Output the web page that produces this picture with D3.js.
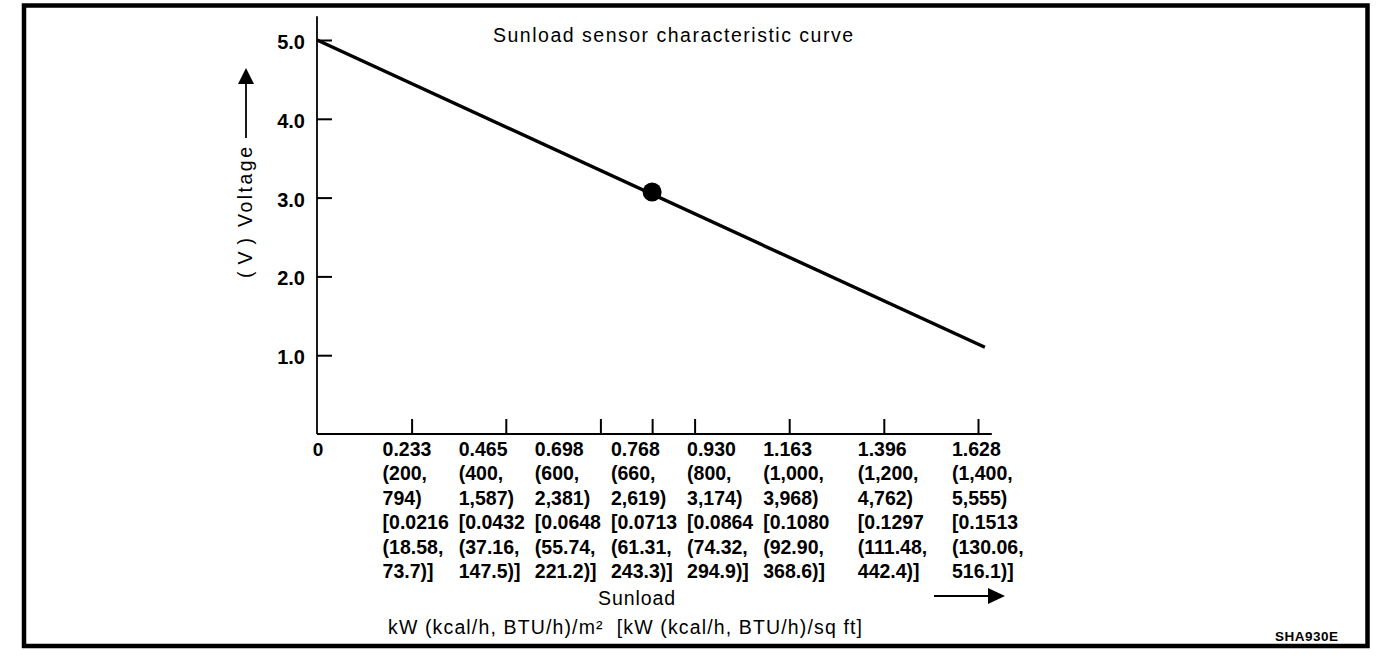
<!DOCTYPE html>
<html>
<head>
<meta charset="utf-8">
<script src="https://cdn.jsdelivr.net/npm/d3@7"></script>
<style>
  body { margin: 0; background: #fff; }
  svg { display: block; }
  text { font-family: "Liberation Sans", Arial, sans-serif; fill: #000; }
</style>
</head>
<body>
<svg id="chart" width="1392" height="664"></svg>
<script>
// values
var voltTicks = [1.0, 2.0, 3.0, 4.0, 5.0];
var kwTicks = [0.233, 0.465, 0.698, 0.768, 0.930, 1.163, 1.396, 1.628];
var kcalLabels = ['(200,', '(400,', '(600,', '(660,', '(800,', '(1,000,', '(1,200,', '(1,400,'];
var btuLabels = ['794)', '1,587)', '2,381)', '2,619)', '3,174)', '3,968)', '4,762)', '5,555)'];
var sqftKwLabels = ['[0.0216', '[0.0432', '[0.0648', '[0.0713', '[0.0864', '[0.1080', '[0.1297', '[0.1513'];
var sqftKcalLabels = ['(18.58,', '(37.16,', '(55.74,', '(61.31,', '(74.32,', '(92.90,', '(111.48,', '(130.06,'];
var sqftBtuLabels = ['73.7)]', '147.5)]', '221.2)]', '243.3)]', '294.9)]', '368.6)]', '442.4)]', '516.1)]'];
var curveKw = [0, 1.645];
var curveVolt = [5.0, 1.10];
var markKw = 0.768;
var markVolt = 3.07;

var svg = d3.select('#chart');

// frame round the whole figure
svg.append('rect')
    .attr('x', 24).attr('y', 5.5)
    .attr('width', 1343.5).attr('height', 640.5)
    .attr('fill', 'none')
    .attr('stroke', '#000')
    .attr('stroke-width', 4.5);

var x0 = 317, x1 = 978;
var xLin = d3.scaleLinear().domain([0, 1.628]).range([x0, x1]);
// the sheet puts the 0.768 tick nearer to 0.930 than a straight scale would
var x = d3.scaleLinear()
    .domain([0, 0.698, 0.768, 0.930, 1.628])
    .range([xLin(0), xLin(0.698), x0 + 0.507 * (x1 - x0), xLin(0.930), xLin(1.628)]);
var y = d3.scaleLinear().domain([0, 5]).range([434, 40]);

// axis lines
svg.append('line')
    .attr('x1', x(0)).attr('x2', x(0))
    .attr('y1', y(0)).attr('y2', y(5.3))
    .attr('stroke', '#000').attr('stroke-width', 1.8);
svg.append('line')
    .attr('x1', x(0)).attr('x2', x(1.662))
    .attr('y1', y(0)).attr('y2', y(0))
    .attr('stroke', '#000').attr('stroke-width', 1.8);

// y ticks point inwards, labels stay on the left
var yAxis = svg.append('g')
    .attr('transform', 'translate(' + x(0) + ',0)')
    .call(d3.axisLeft(y)
        .tickValues(voltTicks)
        .tickSizeInner(-15)
        .tickSizeOuter(0)
        .tickPadding(12)
        .tickFormat(d3.format('.1f')));
yAxis.select('.domain').remove();
yAxis.selectAll('line').attr('stroke', '#000').attr('stroke-width', 2);
yAxis.selectAll('text')
    .attr('font-size', 20)
    .attr('font-weight', 'bold')
    .attr('font-family', '"Liberation Sans", Arial, sans-serif')
    .attr('dy', '0.42em');

var xAxis = svg.append('g')
    .attr('transform', 'translate(0,' + y(0) + ')')
    .call(d3.axisBottom(x)
        .tickValues(kwTicks)
        .tickSizeInner(-15)
        .tickSizeOuter(0)
        .tickFormat(''));
xAxis.select('.domain').remove();
xAxis.selectAll('line').attr('stroke', '#000').attr('stroke-width', 2);

// origin label
svg.append('text')
    .attr('x', x(0) + 1).attr('y', 456)
    .attr('text-anchor', 'middle')
    .attr('font-size', 19).attr('font-weight', 'bold')
    .text('0');

// label columns: the last two sit under their ticks, the crowded six are spread evenly
var colX = kwTicks.map(function (d) { return x(d) - 26; });
var spread = d3.scaleLinear().domain([0, 5]).range([x(kwTicks[0]) - 29, colX[5]]);
for (var i = 0; i < 6; i++) colX[i] = spread(i);

var rows = [kwTicks.map(d3.format('.3f')), kcalLabels, btuLabels, sqftKwLabels, sqftKcalLabels, sqftBtuLabels];
rows.forEach(function (row, r) {
    svg.append('g').selectAll('text')
        .data(row)
        .join('text')
        .attr('x', function (d, i) { return colX[i]; })
        .attr('y', 456 + r * 24.4)
        .attr('font-size', 19.5)
        .attr('font-weight', 'bold')
        .text(function (d) { return d; });
});

// characteristic line and the marked point
var curve = curveKw.map(function (d, i) { return [d, curveVolt[i]]; });
svg.append('path')
    .datum(curve)
    .attr('d', d3.line().x(function (d) { return x(d[0]); }).y(function (d) { return y(d[1]); }))
    .attr('fill', 'none')
    .attr('stroke', '#000')
    .attr('stroke-width', 3.4);

svg.append('circle')
    .attr('cx', x(markKw)).attr('cy', y(markVolt))
    .attr('r', 9.5)
    .attr('fill', '#000');

// title
svg.append('text')
    .attr('x', 493).attr('y', 42)
    .attr('font-size', 19.5)
    .attr('textLength', 360)
    .text('Sunload sensor characteristic curve');

// y axis caption with arrow
svg.append('text')
    .attr('transform', 'translate(252,187) rotate(-90)')
    .attr('text-anchor', 'middle')
    .attr('font-size', 19.5)
    .attr('textLength', 80)
    .text('Voltage');
svg.append('text')
    .attr('transform', 'translate(252,258) rotate(-90)')
    .attr('text-anchor', 'middle')
    .attr('font-size', 19.5)
    .attr('textLength', 40)
    .text('( V )');
svg.append('line')
    .attr('x1', 246).attr('x2', 246)
    .attr('y1', 138).attr('y2', 80)
    .attr('stroke', '#000').attr('stroke-width', 1.8);
svg.append('path')
    .attr('d', 'M246,68 L238,84 L254,84 Z')
    .attr('fill', '#000');

// x axis caption with arrow
svg.append('text')
    .attr('x', 598).attr('y', 605)
    .attr('font-size', 19.5)
    .attr('textLength', 77)
    .text('Sunload');
svg.append('line')
    .attr('x1', 934).attr('x2', 992)
    .attr('y1', 596).attr('y2', 596)
    .attr('stroke', '#000').attr('stroke-width', 1.8);
svg.append('path')
    .attr('d', 'M1005,596 L988,588 L988,604 Z')
    .attr('fill', '#000');

svg.append('text')
    .attr('x', 388).attr('y', 634)
    .attr('font-size', 19.5)
    .attr('textLength', 474)
    .text('kW (kcal/h, BTU/h)/m\u00b2 \u00a0[kW (kcal/h, BTU/h)/sq ft]');

// sheet code
svg.append('text')
    .attr('x', 1275).attr('y', 641)
    .attr('font-size', 13.5)
    .attr('font-weight', 'bold')
    .attr('textLength', 63)
    .text('SHA930E');
</script>
</body>
</html>
